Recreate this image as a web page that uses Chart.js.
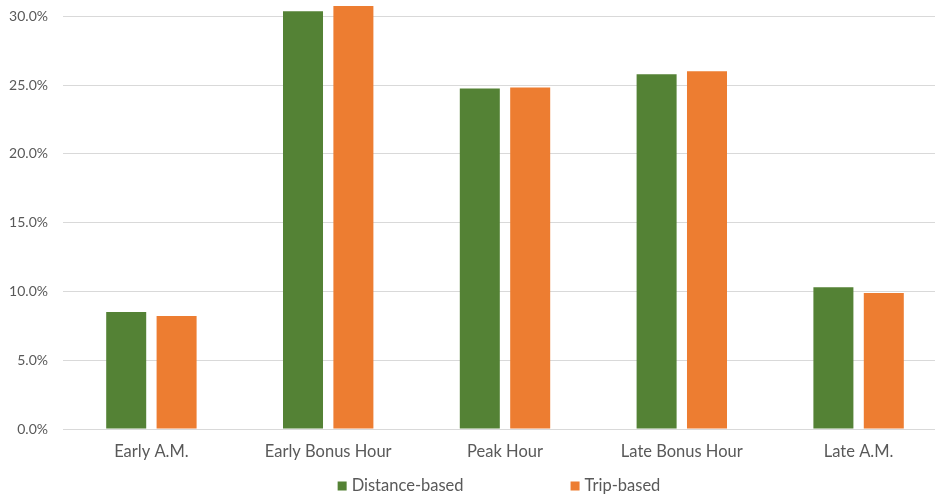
<!DOCTYPE html>
<html>
<head>
<meta charset="utf-8">
<script src="https://cdn.jsdelivr.net/npm/chart.js@4/dist/chart.umd.min.js"></script>
<style>
  html, body { margin: 0; padding: 0; background: #fff; }
  #wrap { width: 935px; height: 495px; overflow: hidden; position: relative; }
  #c { display: block; position: absolute; left: 0; top: -23px; }
</style>
</head>
<body>
<div id="wrap"><canvas id="c" width="947" height="518"></canvas></div>
<script>
// Share of activity by time period (percent)
const periods = ['Early A.M.', 'Early Bonus Hour', 'Peak Hour', 'Late Bonus Hour', 'Late A.M.'];
const distanceBased = [8.50, 30.38, 24.75, 25.79, 10.31];
const tripBased = [8.21, 30.75, 24.82, 26.00, 9.88];
const seriesNames = ['Distance-based', 'Trip-based'];
const seriesColors = ['#548235', '#ED7D31'];

const textColor = '#595959';
const fontFamily = 'Lato, "Liberation Sans", Arial, sans-serif';

// Legend row drawn under the category labels
const bottomLegend = {
  id: 'bottomLegend',
  afterDraw(chart) {
    const ctx = chart.ctx;
    ctx.save();
    ctx.font = '16.5px ' + fontFamily;
    ctx.textBaseline = 'middle';
    ctx.textAlign = 'left';
    const box = 9, gapBoxText = 5, gapItems = 107;
    const y = chart.height - 9;
    const widths = seriesNames.map(n => box + gapBoxText + ctx.measureText(n).width);
    const total = widths.reduce((a, b) => a + b, 0) + gapItems * (widths.length - 1);
    let x = (chart.chartArea.left + chart.chartArea.right) / 2 - 6 - total / 2;
    seriesNames.forEach((name, i) => {
      ctx.fillStyle = seriesColors[i];
      ctx.fillRect(x, y - box / 2, box, box);
      ctx.fillStyle = textColor;
      ctx.fillText(name, x + box + gapBoxText, y);
      x += widths[i] + gapItems;
    });
    ctx.restore();
  }
};

new Chart(document.getElementById('c'), {
  type: 'bar',
  data: {
    labels: periods,
    datasets: [
      { label: seriesNames[0], data: distanceBased, backgroundColor: seriesColors[0],
        categoryPercentage: 0.57, barPercentage: 0.794 },
      { label: seriesNames[1], data: tripBased, backgroundColor: seriesColors[1],
        categoryPercentage: 0.57, barPercentage: 0.794 }
    ]
  },
  options: {
    responsive: false,
    animation: false,
    devicePixelRatio: 1,
    layout: { padding: { top: 0, right: 0, bottom: 30, left: 0 } },
    plugins: {
      legend: { display: false },
      tooltip: { enabled: false }
    },
    scales: {
      x: {
        grid: { display: false, drawTicks: false },
        border: { display: false },
        ticks: { color: textColor, font: { family: fontFamily, size: 16.5 }, padding: 13, maxRotation: 0 },
        afterFit: s => { s.height = 36; }
      },
      y: {
        min: 0,
        max: 31.16,
        bounds: 'data',
        grid: { color: '#d9d9d9', lineWidth: 1, drawTicks: false },
        border: { display: false },
        ticks: {
          stepSize: 5,
          includeBounds: false,
          color: textColor,
          font: { family: fontFamily, size: 14 },
          padding: 15,
          callback: v => v.toFixed(1) + '%'
        },
        afterFit: s => { s.width = 63; }
      }
    }
  },
  plugins: [bottomLegend]
});
</script>
</body>
</html>
